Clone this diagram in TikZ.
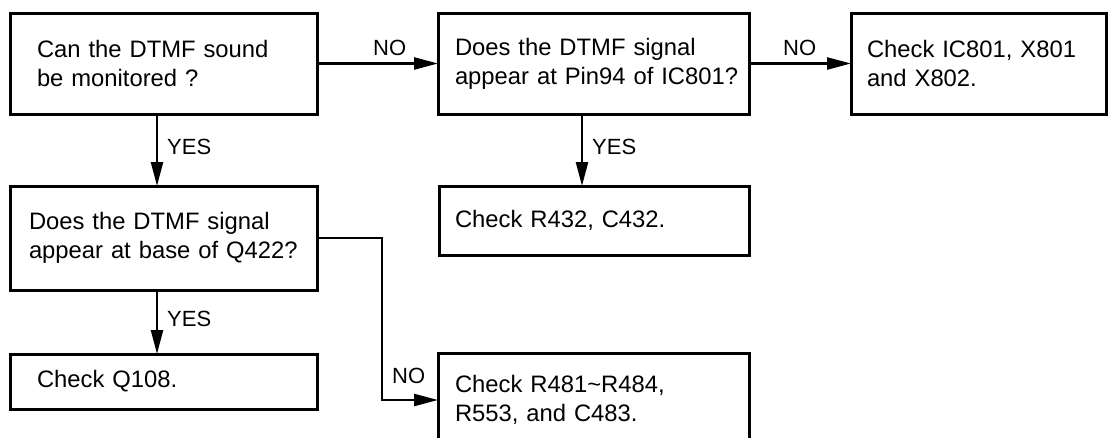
\documentclass[tikz,border=0pt]{standalone}
\usepackage{fontspec}
\setmainfont{Liberation Sans}
\usetikzlibrary{arrows.meta}
\begin{document}
\begin{tikzpicture}[x=1pt,y=-1pt,
  box/.style={draw, line width=3pt, rectangle, anchor=north west, align=left,
    font=\fontsize{23.8}{29}\selectfont, inner ysep=0pt, outer sep=0pt},
  lbl/.style={font=\fontsize{22}{26}\selectfont, anchor=base west, inner sep=0pt},
  arr/.style={line width=2.4pt, -{Triangle[length=24pt,width=12pt]}}]
\clip (0,0) rectangle (1109,437);
\fill[white] (0,0) rectangle (1109,437);
% boxes
\node[box, inner xsep=27pt, text width=253pt, minimum width=307pt, minimum height=101pt] (b1) at (10,13)
  {\mbox{Can the DTMF sound}\\\mbox{be monitored ?}};
\node[box, inner xsep=17pt, text width=277pt, minimum width=311pt, minimum height=101pt] (b2) at (438,13)
  {\mbox{Does the DTMF signal}\\\mbox{appear at Pin94 of IC801?}};
\node[box, inner xsep=16pt, text width=223pt, minimum width=255pt, minimum height=101pt] (b4) at (851,13)
  {\mbox{Check IC801, X801}\\\mbox{and X802.}};
\node[box, inner xsep=19pt, text width=269pt, minimum width=307pt, minimum height=104pt] (b3) at (10,186)
  {\mbox{Does the DTMF signal}\\\mbox{appear at base of Q422?}};
\node[box, inner xsep=16pt, text width=278pt, minimum width=310pt, minimum height=69pt] (b5) at (439,186)
  {\mbox{Check R432, C432.}};
\node[box, inner xsep=27pt, text width=253pt, minimum width=307pt, minimum height=55pt] (b6) at (10,354)
  {\mbox{Check Q108.}};
\node[box, inner xsep=17pt, text width=277pt, minimum width=311pt, minimum height=93pt] (b7) at (438,353)
  {\mbox{Check R481\textasciitilde R484,}\\\mbox{R553, and C483.}};
% helper coordinates
\coordinate (xa) at (157,0);
\coordinate (xb) at (582,0);
\coordinate (elbow) at (382,400);
% connectors
\draw[arr] (b1.east) -- (b2.west);
\draw[arr] (b2.east) -- (b4.west);
\draw[arr] (b1.south -| xa) -- (b3.north -| xa);
\draw[arr] (b2.south -| xb) -- (b5.north -| xb);
\draw[arr] (b3.south -| xa) -- (b6.north -| xa);
\draw[arr] (b3.east) -- (b3.east -| elbow) -- (elbow) -- (b7.west |- elbow);
% labels
\node[lbl] (l1) at (373,55) {NO};
\node[lbl] (l2) at (783,55) {NO};
\node[lbl] (l3) at (167,154) {YES};
\node[lbl] (l4) at (592,154) {YES};
\node[lbl] (l5) at (167,326) {YES};
\node[lbl] (l6) at (392,383) {NO};
\end{tikzpicture}
\end{document}
